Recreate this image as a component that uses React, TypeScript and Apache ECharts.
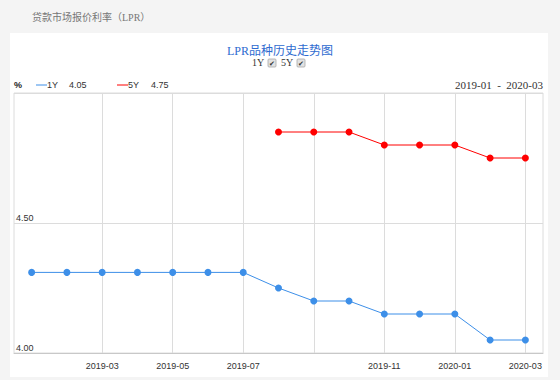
import React, { useEffect, useRef } from "react";
import * as echarts from "echarts";

const months = [
  "2019-01", "2019-02", "2019-03", "2019-04", "2019-05", "2019-06", "2019-07", "2019-08",
  "2019-09", "2019-10", "2019-11", "2019-12", "2020-01", "2020-02", "2020-03",
];
const lpr1Y = [4.31, 4.31, 4.31, 4.31, 4.31, 4.31, 4.31, 4.25, 4.2, 4.2, 4.15, 4.15, 4.15, 4.05, 4.05];
const lpr5Y = [null, null, null, null, null, null, null, 4.85, 4.85, 4.85, 4.8, 4.8, 4.8, 4.75, 4.75];
const yTicks = [4.0, 4.5, 5.0];
const seriesNames = ["1Y", "5Y"];

const BLUE = "#3d8fe8";
const RED = "#ff0000";
const SANS = "'Liberation Sans', Arial, Helvetica, sans-serif";
const SERIF = "'Liberation Serif', 'Noto Sans CJK SC', serif";

export default function App() {
  const ref = useRef<HTMLDivElement>(null);
  useEffect(() => {
    if (!ref.current) return;
    const chart = echarts.init(ref.current, null, { renderer: "svg" });
    const last1 = lpr1Y[lpr1Y.length - 1];
    const last5 = lpr5Y[lpr5Y.length - 1] as number;
    const gridMonths = months.filter((_, i) => i > 0 && i % 2 === 0);
    const hiddenLabel = "2019-09";

    const checkbox = (x: number) => ({
      type: "group",
      x,
      y: 59,
      children: [
        { type: "rect", shape: { x: 0, y: 0, width: 8, height: 8, r: 1 }, style: { fill: "#e2e2e2", stroke: "#a8a8a8", lineWidth: 0.8 } },
        { type: "text", x: 4, y: 4.5, style: { text: "✔", fill: "#333", font: `7px ${SANS}`, align: "center", verticalAlign: "middle" } },
      ],
    });

    chart.setOption({
      animation: false,
      backgroundColor: "#f4f4f4",
      title: {
        text: "LPR品种历史走势图",
        left: "center",
        top: 40,
        textStyle: { color: "#2e6bd0", fontSize: 12, fontWeight: "normal", fontFamily: SERIF },
      },
      graphic: [
        { type: "rect", z: -10, shape: { x: 10, y: 33, width: 538, height: 344 }, style: { fill: "#ffffff" } },
        { type: "text", x: 32, y: 17, style: { text: "贷款市场报价利率（LPR）", fill: "#777", font: `10px ${SERIF}`, verticalAlign: "middle" } },
        { type: "text", x: 252, y: 62.5, style: { text: seriesNames[0], fill: "#333", font: `10px ${SERIF}`, verticalAlign: "middle" } },
        checkbox(268),
        { type: "text", x: 281, y: 62.5, style: { text: seriesNames[1], fill: "#333", font: `10px ${SERIF}`, verticalAlign: "middle" } },
        checkbox(297),
        { type: "text", x: 14, y: 85, style: { text: "%", fill: "#222", font: `bold 9px ${SANS}`, verticalAlign: "middle" } },
        { type: "line", shape: { x1: 36, y1: 85, x2: 47, y2: 85 }, style: { stroke: BLUE, lineWidth: 1 } },
        { type: "text", x: 47, y: 85, style: { text: seriesNames[0], fill: "#333", font: `9px ${SANS}`, verticalAlign: "middle" } },
        { type: "text", x: 69, y: 85, style: { text: last1.toFixed(2), fill: "#333", font: `9px ${SANS}`, verticalAlign: "middle" } },
        { type: "line", shape: { x1: 117, y1: 85, x2: 128, y2: 85 }, style: { stroke: RED, lineWidth: 1 } },
        { type: "text", x: 128, y: 85, style: { text: seriesNames[1], fill: "#333", font: `9px ${SANS}`, verticalAlign: "middle" } },
        { type: "text", x: 151, y: 85, style: { text: last5.toFixed(2), fill: "#333", font: `9px ${SANS}`, verticalAlign: "middle" } },
        { type: "text", x: 543, y: 84.5, style: { text: `${months[0]}  -  ${months[months.length - 1]}`, fill: "#333", font: `11px ${SERIF}`, align: "right", verticalAlign: "middle" } },
      ],
      grid: { left: 14, right: 17, top: 93, bottom: 27, show: true, borderColor: "#dcdcdc", borderWidth: 1, backgroundColor: "transparent" },
      xAxis: {
        type: "category",
        data: months,
        boundaryGap: true,
        axisLine: { show: true, lineStyle: { color: "#c8c8c8" } },
        axisTick: { show: false },
        splitLine: { show: false },
        axisLabel: {
          interval: (i: number, v: string) => i > 0 && i % 2 === 0 && v !== hiddenLabel,
          color: "#333",
          fontSize: 9,
          fontFamily: SANS,
          margin: 8,
        },
      },
      yAxis: {
        type: "value",
        min: yTicks[0],
        max: yTicks[yTicks.length - 1],
        interval: 0.5,
        axisLine: { show: false },
        axisTick: { show: false },
        splitLine: { show: true, lineStyle: { color: "#dcdcdc" } },
        axisLabel: {
          inside: true,
          showMaxLabel: false,
          margin: 2,
          color: "#333",
          fontSize: 9,
          fontFamily: SANS,
          verticalAlign: "bottom",
          lineHeight: 10,
          formatter: (v: number) => v.toFixed(2),
        },
      },
      series: [
        {
          name: seriesNames[0],
          type: "line",
          data: lpr1Y,
          symbol: "circle",
          symbolSize: 7,
          itemStyle: { color: BLUE },
          lineStyle: { color: BLUE, width: 1 },
          z: 3,
          markLine: {
            silent: true,
            symbol: "none",
            label: { show: false },
            lineStyle: { color: "#dcdcdc", type: "solid", width: 1 },
            data: gridMonths.map((m) => ({ xAxis: m })),
            z: 1,
          },
        },
        {
          name: seriesNames[1],
          type: "line",
          data: lpr5Y,
          symbol: "circle",
          symbolSize: 7,
          itemStyle: { color: RED },
          lineStyle: { color: RED, width: 1 },
          z: 3,
        },
      ],
    });
    return () => chart.dispose();
  }, []);
  return <div ref={ref} style={{ position: "absolute", left: 0, top: 0, width: 560, height: 380 }} />;
}
